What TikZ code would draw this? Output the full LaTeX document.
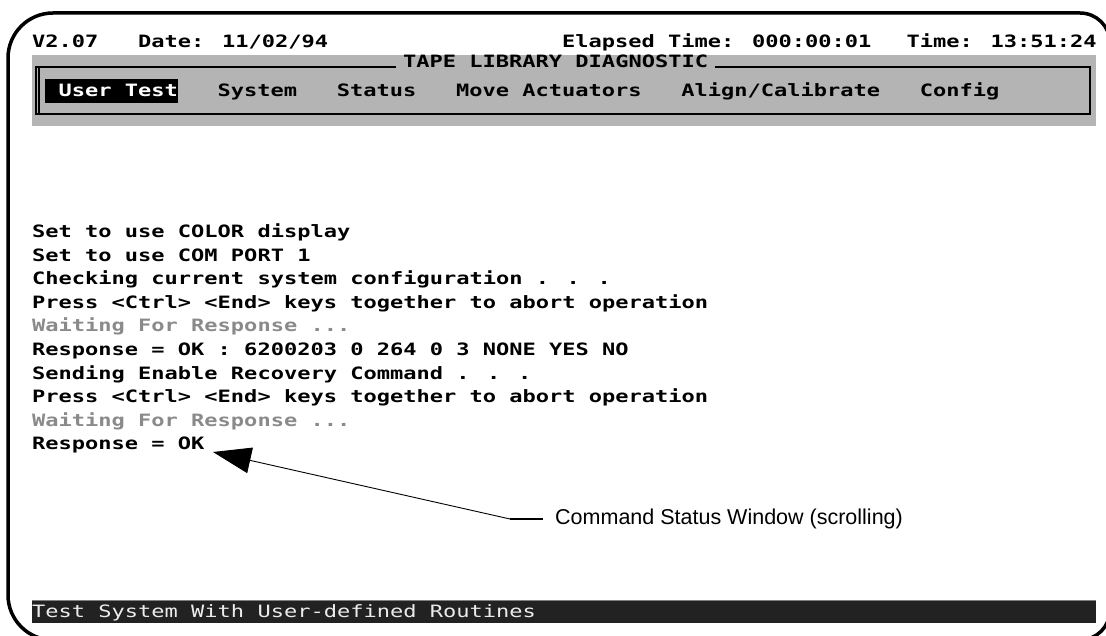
\documentclass[tikz,border=0pt]{standalone}
\usepackage{fontspec}
\setmainfont{Liberation Sans}
\newfontfamily\dosfont[FakeStretch=1.295]{DejaVu Sans Mono}
\usetikzlibrary{arrows.meta}
\definecolor{bandgray}{HTML}{B4B4B4}
\definecolor{dimtext}{HTML}{8A8A8A}
\definecolor{barblack}{HTML}{222222}

\begin{document}
\begin{tikzpicture}[
    x=1pt, y=-1pt,
    dos/.style={anchor=base west,inner sep=0pt,font=\dosfont\bfseries\fontsize{17}{20}\selectfont},
    dim/.style={dos,text=dimtext},
    hint/.style={anchor=west,inner sep=0pt,font=\fontsize{21.5}{24}\selectfont},
]
    \useasboundingbox (0,0) rectangle (1106,636);
    \begin{scope}
        \clip (0,0) rectangle (1106,636);
        \draw[line width=3.5pt] (1110,660) -- (1110,43) arc[start angle=0,end angle=90,radius=30pt]
            -- (53,13) arc[start angle=90,end angle=180,radius=45pt]
            -- (8,595) arc[start angle=180,end angle=270,radius=45pt]
            -- (1080,640) arc[start angle=270,end angle=360,radius=30pt] -- cycle;
    \end{scope}
    % header line
    \node[dos] (ver) at (32,48) {V2.07};
    \node[dos] (date) at (138,48) {Date: 11/02/94};
    \node[dos] (elapsed) at (562,48) {Elapsed Time: 000:00:01};
    \node[dos] (clock) at (906.5,48) {Time: 13:51:24};
    % menu bar
    \fill[bandgray] (32,55) rectangle (1096,126);
    \draw[line width=1.3pt] (36,67) rectangle (1090,114);
    \draw[line width=1.3pt] (39,67) -- (39,114);
    \node[dos,fill=bandgray,inner xsep=7pt] (title) at (396,68) {TAPE LIBRARY DIAGNOSTIC};
    \fill (45.25,79) rectangle (177.75,103);
    \node[dos,text=white] (usertest) at (58.5,97) {User Test};
    \node[dos] (system) at (217.5,97) {System};
    \node[dos] (status) at (336.75,97) {Status};
    \node[dos] (move) at (456,97) {Move Actuators};
    \node[dos] (align) at (681.25,97) {Align/Calibrate};
    \node[dos] (config) at (919.75,97) {Config};
    % command status window
    \node[dos] (l1) at (32,238) {Set to use COLOR display};
    \node[dos] (l2) at (32,261.5) {Set to use COM PORT 1};
    \node[dos] (l3) at (32,285) {Checking current system configuration . . .};
    \node[dos] (l4) at (32,308.5) {Press <Ctrl> <End> keys together to abort operation};
    \node[dim] (l5) at (32,332) {Waiting For Response ...};
    \node[dos] (l6) at (32,355.5) {Response = OK : 6200203 0 264 0 3 NONE YES NO};
    \node[dos] (l7) at (32,379) {Sending Enable Recovery Command . . .};
    \node[dos] (l8) at (32,402.5) {Press <Ctrl> <End> keys together to abort operation};
    \node[dim] (l9) at (32,426) {Waiting For Response ...};
    \node[dos] (l10) at (32,449.5) {Response = OK};
    % callout
    \node[hint] (hint) at (555,519) {Command Status Window (scrolling)};
    \coordinate (knee) at (510,519);
    \coordinate (oktip) at (213,452);
    \draw[line width=1.8pt] ([xshift=-12pt]hint.west) -- (knee);
    \draw[line width=0.9pt,-{Triangle[length=38pt,width=26pt]}] (knee) -- (oktip);
    % status bar
    \fill[barblack] (32,600) rectangle (1096,623);
    \draw[gray,line width=0.8pt] (32,600) -- (1096,600);
    \node[dos,font=\dosfont\mdseries\fontsize{17}{20}\selectfont,text=gray!15] (help) at (32,617) {Test System With User-defined Routines};
\end{tikzpicture}
\end{document}
